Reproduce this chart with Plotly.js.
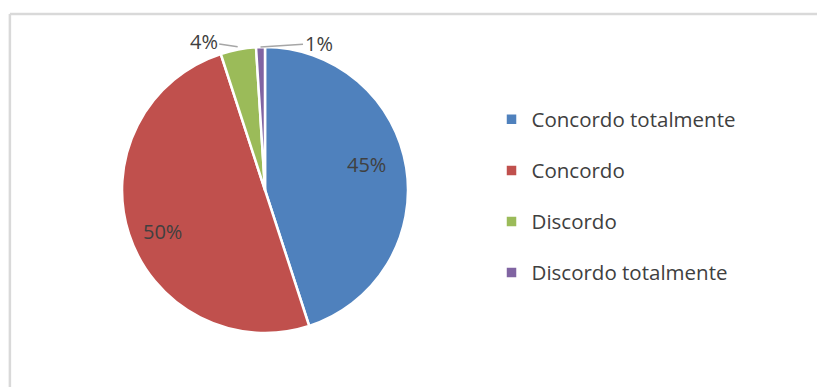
<!DOCTYPE html>
<html>
<head>
<meta charset="utf-8">
<script src="https://cdn.plot.ly/plotly-3.0.1.min.js"></script>
<style>html,body{margin:0;padding:0;background:#fff;}#chart{width:817px;height:387px;}</style>
</head>
<body>
<div id="chart"></div>
<script>
const categories = ["Concordo totalmente", "Concordo", "Discordo", "Discordo totalmente"];
const values = [45, 50, 4, 1];
const colors = ["#4F81BD", "#C0504D", "#9BBB59", "#8064A2"];

const FONT = "'Open Sans', Lato, sans-serif";
const TEXT_COLOR = "#404040";

const legendLabels = categories.map(c =>
  "<span style='font-size:20.5px'>" + c + "</span><br><span style='font-size:2px'>&nbsp;</span>");

const trace = {
  type: "pie",
  labels: legendLabels,
  values: values,
  sort: false,
  direction: "clockwise",
  rotation: 0,
  marker: {colors: colors, line: {color: "#ffffff", width: 2.5}},
  textinfo: "none",
  hoverinfo: "label+percent",
  domain: {x: [0, 1], y: [0, 1]}
};

// Percentage labels placed along each slice's bisector (derived from the data)
const total = values.reduce((a, b) => a + b, 0);
const labelStyle = [
  {k: 0.72, yshift: 9, arrow: false},
  {k: 0.75, yshift: -8, arrow: false},
  {k: 1.02, arrow: true, ax: -34, ay: -5},
  {k: 1.0, arrow: true, ax: 58, ay: -4}
];
let cum = 0;
const annotations = values.map((v, i) => {
  const mid = (cum + v / 2) / total * 2 * Math.PI;
  cum += v;
  const s = labelStyle[i];
  const x = 0.5 + 0.5 * s.k * Math.sin(mid);
  const y = 0.5 + 0.5 * s.k * Math.cos(mid);
  const txt = Math.round(v / total * 100) + "%";
  const a = {
    xref: "paper", yref: "paper", x: x, y: y, text: txt,
    font: {family: FONT, size: 20, color: TEXT_COLOR},
    showarrow: false, xanchor: "center", yanchor: "middle",
    yshift: s.yshift || 0
  };
  if (s.arrow) {
    a.showarrow = true;
    a.arrowhead = 0;
    a.arrowwidth = 1.5;
    a.arrowcolor = "#a6a6a6";
    a.ax = s.ax;
    a.ay = s.ay;
    a.standoff = 0;
    delete a.xanchor; delete a.yanchor;
  }
  return a;
});

const layout = {
  width: 817,
  height: 387,
  margin: {l: 122, r: 409, t: 47, b: 54},
  paper_bgcolor: "#ffffff",
  plot_bgcolor: "#ffffff",
  showlegend: true,
  legend: {
    x: 1.292, xanchor: "left",
    y: 0.812, yanchor: "top",
    valign: "top",
    font: {family: FONT, size: 18.5, color: TEXT_COLOR},
    itemclick: false
  },
  annotations: annotations,
  shapes: [
    {type: "line", xref: "paper", yref: "paper", x0: -0.392, x1: 2.5, y0: 1.115, y1: 1.115, line: {color: "#d9d9d9", width: 2.5}},
    {type: "line", xref: "paper", yref: "paper", x0: -0.392, x1: -0.392, y0: 1.115, y1: -0.2, line: {color: "#d9d9d9", width: 2.5}}
  ]
};

Plotly.newPlot("chart", [trace], layout, {displayModeBar: false, staticPlot: true});
</script>
</body>
</html>
